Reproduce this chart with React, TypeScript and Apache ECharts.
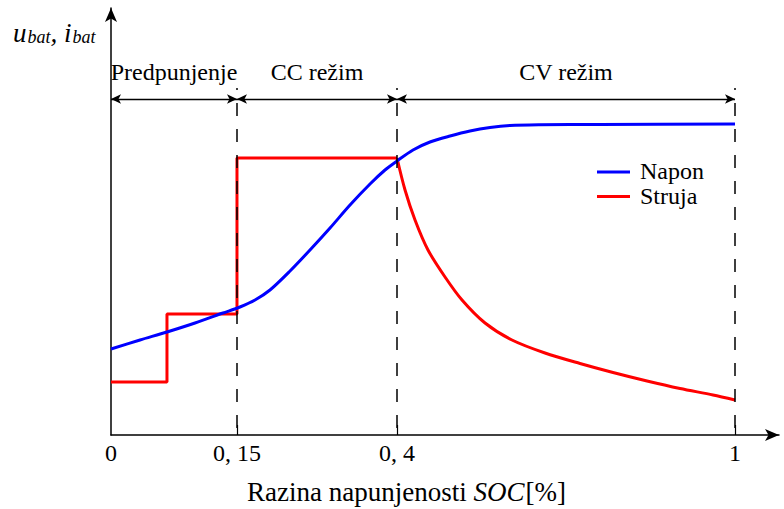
import React, { useEffect, useRef } from 'react';
import * as echarts from 'echarts';

const FONT = 'Liberation Serif';

// Schematic axis positions (0..1 along the drawn axis) and their labels
const tickPositions = [0, 0.2019, 0.4583, 1];
const tickLabels = ['0', '0, 15', '0, 4', '1'];

// Charging phases
const phaseBounds = [0, 0.2019, 0.4583, 1];
const phaseNames = ['Predpunjenje', 'CC režim', 'CV režim'];

// Series names and colours
const seriesNames = ['Napon', 'Struja'];
const seriesColors = ['#0000ff', '#ff0000'];

// Axis title
const xTitleParts = ['Razina napunjenosti ', 'SOC', '[%]'];

// Napon (voltage)
const naponX = [0, 0.0465, 0.0897, 0.1346, 0.1795, 0.2067, 0.2308, 0.2548, 0.2869, 0.3189, 0.351, 0.383, 0.4151, 0.4391, 0.4583, 0.484, 0.5112, 0.5433, 0.5753, 0.6074, 0.6394, 0.6875, 0.7837, 1.0];
const naponY = [0.215, 0.2375, 0.2575, 0.28, 0.305, 0.32, 0.3375, 0.3625, 0.41, 0.4625, 0.5175, 0.575, 0.6275, 0.6625, 0.685, 0.7125, 0.7325, 0.7475, 0.76, 0.76875, 0.77375, 0.7755, 0.77625, 0.7775];

// Struja (current) – pre-charge and CC steps
const strujaStepX = [0, 0.0897, 0.0897, 0.2019, 0.2019, 0.4583];
const strujaStepY = [0.1325, 0.1325, 0.3025, 0.3025, 0.6925, 0.6925];

// Struja – CV decay
const strujaCvX = [0.4583, 0.4712, 0.4872, 0.508, 0.5353, 0.5625, 0.5994, 0.6426, 0.6955, 0.7516, 0.8045, 0.859, 0.9119, 0.9647, 1.0];
const strujaCvY = [0.6925, 0.6125, 0.5375, 0.4625, 0.395, 0.3375, 0.28, 0.2375, 0.205, 0.17875, 0.15625, 0.135, 0.11625, 0.1, 0.0875];

const boundTop = 0.8675;
const arrowLevel = 0.84;

const zip = (xs: number[], ys: number[]) => xs.map((x, i) => [x, ys[i]]);

let measureCtx: CanvasRenderingContext2D | null = null;
const textWidth = (t: string, font: string) => {
  if (!measureCtx) measureCtx = document.createElement('canvas').getContext('2d');
  measureCtx!.font = font;
  return measureCtx!.measureText(t).width;
};

export default function App() {
  const ref = useRef<HTMLDivElement>(null);
  useEffect(() => {
    const chart = echarts.init(ref.current!, null, { renderer: 'svg' });
    const option: any = {
      animation: false,
      grid: { left: 111, right: 5, top: 8, bottom: 74 },
      xAxis: {
        type: 'value',
        min: 0,
        max: 1.0705,
        axisLine: {
          show: true,
          symbol: ['none', 'arrow'],
          symbolSize: [9, 14],
          lineStyle: { color: '#000', width: 1.5 },
        },
        axisTick: {
          show: true,
          inside: true,
          length: 10,
          customValues: tickPositions.slice(1),
          lineStyle: { color: '#000', width: 1.2 },
        },
        axisLabel: {
          show: true,
          customValues: tickPositions,
          margin: 6,
          color: '#000',
          fontFamily: FONT,
          fontSize: 24,
          formatter: (v: number) => {
            const i = tickPositions.findIndex((t) => Math.abs(t - v) < 1e-6);
            return i >= 0 ? tickLabels[i] : '';
          },
        },
        splitLine: { show: false },
      },
      yAxis: {
        type: 'value',
        min: 0,
        max: 1.0675,
        axisLine: {
          show: true,
          symbol: ['none', 'arrow'],
          symbolSize: [9, 14],
          lineStyle: { color: '#000', width: 1.5 },
        },
        axisTick: { show: false },
        axisLabel: { show: false },
        splitLine: { show: false },
      },
      series: [
        {
          name: 'Struja',
          type: 'line',
          data: zip(strujaStepX, strujaStepY),
          showSymbol: false,
          symbol: 'none',
          lineStyle: { color: seriesColors[1], width: 3 },
          itemStyle: { color: seriesColors[1] },
          z: 2,
        },
        {
          name: 'Struja',
          type: 'line',
          data: zip(strujaCvX, strujaCvY),
          smooth: 0.3,
          showSymbol: false,
          symbol: 'none',
          lineStyle: { color: seriesColors[1], width: 3 },
          itemStyle: { color: seriesColors[1] },
          z: 2,
        },
        {
          name: 'Napon',
          type: 'line',
          data: zip(naponX, naponY),
          smooth: 0.3,
          showSymbol: false,
          symbol: 'none',
          lineStyle: { color: seriesColors[0], width: 3 },
          itemStyle: { color: seriesColors[0] },
          z: 3,
        },
        {
          name: 'granice',
          type: 'line',
          data: [],
          markLine: {
            silent: true,
            symbol: ['none', 'none'],
            animation: false,
            label: { show: false },
            lineStyle: { color: '#000', width: 1.5, type: [13, 13], dashOffset: 11 },
            data: phaseBounds.slice(1).map((x) => [
              { coord: [x, boundTop] },
              { coord: [x, 0] },
            ]),
          },
        },
        {
          name: 'faze',
          type: 'line',
          data: [],
          markLine: {
            silent: true,
            symbol: ['arrow', 'arrow'],
            symbolSize: [7, 10],
            animation: false,
            label: { show: false },
            lineStyle: { color: '#000', width: 1.3, type: 'solid' },
            data: phaseNames.map((name, i) => [
              { coord: [phaseBounds[i], arrowLevel] },
              { coord: [phaseBounds[i + 1], arrowLevel] },
            ]),
          },
        },
      ],
    };
    chart.setOption(option);

    const px = (x: number, y: number) => chart.convertToPixel({ gridIndex: 0 }, [x, y]) as number[];

    const graphics: any[] = [];

    // phase labels above the arrows
    phaseNames.forEach((name, i) => {
      const p = px((phaseBounds[i] + phaseBounds[i + 1]) / 2, arrowLevel);
      graphics.push({
        type: 'text',
        x: p[0],
        y: p[1] - 27,
        style: { text: name, fontFamily: FONT, fontSize: 24, fill: '#000', align: 'center', verticalAlign: 'middle' },
      });
    });

    // legend
    seriesNames.forEach((name, i) => {
      const y = 172 + i * 24.5;
      graphics.push({
        type: 'line',
        shape: { x1: 597, y1: y, x2: 630, y2: y },
        style: { stroke: seriesColors[i], lineWidth: 3 },
      });
      graphics.push({
        type: 'text',
        x: 640,
        y: y - 1,
        style: { text: name, fontFamily: FONT, fontSize: 24, fill: '#000', align: 'left', verticalAlign: 'middle' },
      });
    });

    // x axis title: "Razina napunjenosti SOC[%]"
    const tSize = 27;
    const [partA, partB, partC] = xTitleParts;
    const wA = textWidth(partA, `${tSize}px ${FONT}`);
    const wB = textWidth(partB, `italic ${tSize}px ${FONT}`);
    const wC = textWidth(partC, `${tSize}px ${FONT}`);
    const startX = 406 - (wA + wB + wC) / 2;
    const ty = 492;
    graphics.push(
      { type: 'text', x: startX, y: ty, style: { text: partA, fontFamily: FONT, fontSize: tSize, fill: '#000', align: 'left', verticalAlign: 'middle' } },
      { type: 'text', x: startX + wA, y: ty, style: { text: partB, fontFamily: FONT, fontStyle: 'italic', fontSize: tSize, fill: '#000', align: 'left', verticalAlign: 'middle' } },
      { type: 'text', x: startX + wA + wB + 1, y: ty, style: { text: partC, fontFamily: FONT, fontSize: tSize, fill: '#000', align: 'left', verticalAlign: 'middle' } },
    );

    // y axis title: u_bat, i_bat
    graphics.push({
      type: 'text',
      left: 13,
      top: 19,
      style: {
        text: '{i|u}{s|bat}{i|, i}{s|bat}',
        fill: '#000',
        rich: {
          i: { fontFamily: FONT, fontStyle: 'italic', fontSize: 27, lineHeight: 28, verticalAlign: 'bottom' },
          s: { fontFamily: FONT, fontStyle: 'italic', fontSize: 18, lineHeight: 28, verticalAlign: 'bottom', padding: [0, 0, 0, 1] },
        },
      },
    });

    chart.setOption({ graphic: graphics });
    return () => chart.dispose();
  }, []);
  return <div ref={ref} style={{ position: 'absolute', left: 0, top: 0, width: 784, height: 509 }} />;
}
